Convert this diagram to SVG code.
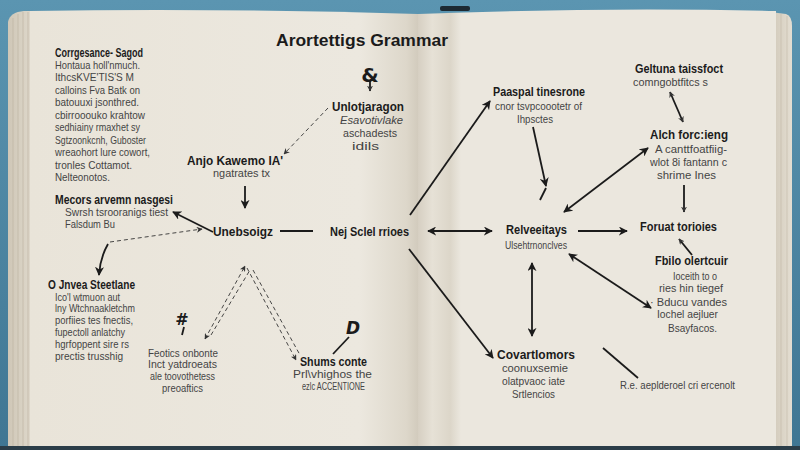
<svg xmlns="http://www.w3.org/2000/svg" width="800" height="450" viewBox="0 0 800 450">
<style>
.h{font-family:"Liberation Sans",Arial,sans-serif;font-weight:bold;font-size:12px;fill:#1b1b1b}
.b{font-family:"Liberation Sans",Arial,sans-serif;font-size:10.5px;fill:#444}
.t{font-family:"Liberation Sans",Arial,sans-serif;font-weight:bold;font-size:17px;fill:#1b1b1b}
.g{font-family:"DejaVu Sans",sans-serif;font-weight:bold;fill:#1b1b1b}
.c{fill:none;stroke:#1b1b1b;stroke-width:1.8}
.d{fill:none;stroke:#333;stroke-width:0.9;stroke-dasharray:4 3}
</style>
<defs>
<linearGradient id="bg" x1="0" y1="0" x2="0" y2="1"><stop offset="0" stop-color="#5b95b1"/><stop offset="1" stop-color="#3f7693"/></linearGradient>
<linearGradient id="lp" x1="0" y1="0" x2="1" y2="0"><stop offset="0" stop-color="#e9e4d9"/><stop offset="0.85" stop-color="#ece8df"/><stop offset="0.97" stop-color="#ddd7ca"/><stop offset="1" stop-color="#d2cbbd"/></linearGradient>
<linearGradient id="rp" x1="0" y1="0" x2="1" y2="0"><stop offset="0" stop-color="#d6cfc2"/><stop offset="0.04" stop-color="#e6e1d6"/><stop offset="0.09" stop-color="#dcd6c9"/><stop offset="0.12" stop-color="#ebe7de"/><stop offset="1" stop-color="#ebe7de"/></linearGradient>
<linearGradient id="st" x1="0" y1="0" x2="1" y2="0"><stop offset="0" stop-color="#cfc7b7"/><stop offset="1" stop-color="#e4ded2"/></linearGradient>
<marker id="ah" viewBox="0 0 10 10" refX="9" refY="5" markerWidth="9" markerHeight="9" markerUnits="userSpaceOnUse" orient="auto-start-reverse"><path d="M0,0 L10,5 L0,10 L3,5 z" fill="#1b1b1b"/></marker>
<marker id="as" viewBox="0 0 10 10" refX="9" refY="5" markerWidth="6" markerHeight="6" markerUnits="userSpaceOnUse" orient="auto-start-reverse"><path d="M0,0 L10,5 L0,10 L3,5 z" fill="#333"/></marker>
</defs>
<rect width="800" height="450" fill="url(#bg)"/>
<g id="book">
<path d="M8,22 Q10,12 24,11 L40,11 L40,447 L8,447 Z" fill="url(#st)"/>
<g stroke="#bfb6a5" stroke-width="0.7"><line x1="13" y1="18" x2="13" y2="446"/><line x1="18" y1="14" x2="18" y2="446"/><line x1="23" y1="12" x2="23" y2="446"/><line x1="28" y1="12" x2="28" y2="446"/><line x1="33" y1="12" x2="33" y2="446"/></g>
<path d="M30,11 Q220,8 418,14 L418,447 L30,447 Z" fill="url(#lp)"/>
<path d="M770,12 L786,14 Q792,16 792,26 L792,447 L770,447 Z" fill="url(#st)"/>
<g stroke="#c6bdad" stroke-width="0.7"><line x1="775" y1="13" x2="775" y2="446"/><line x1="781" y1="14" x2="781" y2="446"/><line x1="787" y1="16" x2="787" y2="446"/></g>
<path d="M418,14 Q600,7 776,11 L776,447 L418,447 Z" fill="url(#rp)"/>
<rect x="440" y="6" width="30" height="5" rx="2" fill="#1d2a33"/>
<rect x="0" y="446" width="800" height="4" fill="#2b3d48"/>
</g>
<g id="connectors">
<line class="d" x1="328" y1="108" x2="284" y2="154" marker-end="url(#as)"/>
<line class="c" x1="370" y1="80" x2="370" y2="91" stroke-width="1.4" marker-end="url(#as)"/>
<line class="c" x1="245" y1="186" x2="245" y2="208" marker-end="url(#ah)"/>
<line class="c" x1="213" y1="232" x2="173" y2="212" marker-end="url(#ah)"/>
<line class="d" x1="110" y1="242" x2="202" y2="229" marker-end="url(#as)"/>
<path class="c" d="M108,244 Q100,258 99,275" marker-end="url(#ah)"/>
<line class="c" x1="280" y1="231" x2="313" y2="231"/>
<line class="d" x1="205" y1="339" x2="245" y2="266" marker-start="url(#as)" marker-end="url(#as)"/>
<line class="d" x1="211" y1="335" x2="250" y2="270"/>
<line class="d" x1="247" y1="268" x2="296" y2="360" marker-end="url(#as)"/>
<line class="d" x1="253" y1="270" x2="300" y2="355"/>
<line class="c" x1="410" y1="215" x2="490" y2="101" marker-end="url(#ah)"/>
<line class="c" x1="428" y1="231" x2="492" y2="231" marker-start="url(#ah)" marker-end="url(#ah)"/>
<line class="c" x1="409" y1="249" x2="493" y2="358" marker-end="url(#ah)"/>
<line class="c" x1="533" y1="127" x2="546" y2="186" marker-end="url(#ah)"/>
<line class="c" x1="540" y1="200" x2="546" y2="188"/>
<line class="c" x1="564" y1="212" x2="648" y2="148" marker-start="url(#ah)" marker-end="url(#ah)"/>
<line class="c" x1="683" y1="122" x2="670" y2="92" stroke-width="1.4" marker-start="url(#as)" marker-end="url(#as)"/>
<line class="c" x1="684" y1="185" x2="684" y2="212" stroke-width="1.4" marker-end="url(#as)"/>
<line class="c" x1="578" y1="231" x2="627" y2="231" marker-end="url(#ah)"/>
<line class="c" x1="692" y1="255" x2="679" y2="239" stroke-width="1.4" marker-end="url(#as)"/>
<line class="c" x1="569" y1="254" x2="651" y2="308" marker-start="url(#ah)" marker-end="url(#ah)"/>
<line class="c" x1="532" y1="263" x2="532" y2="336" marker-start="url(#ah)" marker-end="url(#ah)"/>
<line class="c" x1="603" y1="348" x2="638" y2="378"/>
<line class="c" x1="333" y1="354" x2="349" y2="337" stroke-width="1.6"/>
<line class="c" x1="184" y1="327" x2="182" y2="335" stroke-width="1.4"/>
</g>
<g id="title"><text class="t" x="276" y="46" textLength="172" lengthAdjust="spacingAndGlyphs">Arortettigs Grammar</text></g>
<g id="n-corrgesance">
<text class="h" x="55" y="57" textLength="88" lengthAdjust="spacingAndGlyphs">Corrgesance- Sagod</text>
<text class="b" x="55" y="69" textLength="85" lengthAdjust="spacingAndGlyphs">Hontaua holl'nmuch.</text>
<text class="b" x="55" y="81" textLength="79" lengthAdjust="spacingAndGlyphs">IthcsKVE'TIS'S M</text>
<text class="b" x="55" y="94" textLength="85" lengthAdjust="spacingAndGlyphs">calloins Fva Batk on</text>
<text class="b" x="55" y="106" textLength="84" lengthAdjust="spacingAndGlyphs">batouuxi jsonthred.</text>
<text class="b" x="55" y="119" textLength="90" lengthAdjust="spacingAndGlyphs">cbirrooouko krahtow</text>
<text class="b" x="55" y="131" textLength="85" lengthAdjust="spacingAndGlyphs">sedhiainy rmaxhet sy</text>
<text class="b" x="55" y="144" textLength="91" lengthAdjust="spacingAndGlyphs">Sgtzoonkcnh, Guboster</text>
<text class="b" x="55" y="156" textLength="95" lengthAdjust="spacingAndGlyphs">wreaohort lure cowort,</text>
<text class="b" x="55" y="169" textLength="77" lengthAdjust="spacingAndGlyphs">tronles Cottamot.</text>
<text class="b" x="55" y="181" textLength="55" lengthAdjust="spacingAndGlyphs">Nelteonotos.</text>
</g>
<g id="n-symbol1"><text class="g" x="370" y="82" font-size="20" text-anchor="middle">&amp;</text></g>
<g id="n-unlotjaragon">
<text class="h" x="332" y="111" textLength="72" lengthAdjust="spacingAndGlyphs">Unlotjaragon</text>
<text class="b" x="340" y="124" textLength="63" lengthAdjust="spacingAndGlyphs" font-style="italic" font-size="11.5">Esavotivlake</text>
<text class="b" x="343" y="137" textLength="54" lengthAdjust="spacingAndGlyphs" font-size="11.5">aschadests</text>
<text class="b" x="352" y="150" textLength="27" lengthAdjust="spacingAndGlyphs" font-size="11">idils</text>
</g>
<g id="n-anjo">
<text class="h" x="187" y="165" textLength="96" lengthAdjust="spacingAndGlyphs">Anjo Kawemo IA'</text>
<text class="b" x="213" y="177" textLength="57" lengthAdjust="spacingAndGlyphs">ngatrates tx</text>
</g>
<g id="n-mecors">
<text class="h" x="55" y="204" textLength="118" lengthAdjust="spacingAndGlyphs">Mecors arvemn nasgesi</text>
<text class="b" x="65" y="216" textLength="103" lengthAdjust="spacingAndGlyphs" font-size="9.5">Swrsh tsrooranigs tiest</text>
<text class="b" x="65" y="228" textLength="50" lengthAdjust="spacingAndGlyphs" font-size="9.5">Falsdum Bu</text>
</g>
<g id="n-unebsoigz"><text class="h" x="213" y="236" textLength="60" lengthAdjust="spacingAndGlyphs">Unebsoigz</text></g>
<g id="n-nej"><text class="h" x="330" y="236" textLength="79" lengthAdjust="spacingAndGlyphs">Nej Sclel rrioes</text></g>
<g id="n-jnvea">
<text class="h" x="48" y="289" textLength="87" lengthAdjust="spacingAndGlyphs">O Jnvea Steetlane</text>
<text class="b" x="55" y="301" textLength="65" lengthAdjust="spacingAndGlyphs">Ico'l wtmuon aut</text>
<text class="b" x="55" y="312" textLength="80" lengthAdjust="spacingAndGlyphs">lny Wtchnaakletchm</text>
<text class="b" x="55" y="324" textLength="78" lengthAdjust="spacingAndGlyphs">porfiies tes fnectis,</text>
<text class="b" x="55" y="336" textLength="70" lengthAdjust="spacingAndGlyphs">fupectoll anlatchy</text>
<text class="b" x="55" y="348" textLength="74" lengthAdjust="spacingAndGlyphs">hgrfoppent sire rs</text>
<text class="b" x="55" y="360" textLength="68" lengthAdjust="spacingAndGlyphs">prectis trusshig</text>
</g>
<g id="n-symbol2"><text class="g" x="182" y="325" font-size="16" text-anchor="middle">#</text></g>
<g id="n-feotics">
<text class="b" x="148" y="357" textLength="70" lengthAdjust="spacingAndGlyphs">Feotics onbonte</text>
<text class="b" x="148" y="368" textLength="69" lengthAdjust="spacingAndGlyphs">Inct yatdroeats</text>
<text class="b" x="150" y="380" textLength="65" lengthAdjust="spacingAndGlyphs">ale toovothetess</text>
<text class="b" x="162" y="392" textLength="41" lengthAdjust="spacingAndGlyphs">preoaftics</text>
</g>
<g id="n-symbol3"><text class="g" x="353" y="334" font-size="17" text-anchor="middle" font-style="italic">D</text></g>
<g id="n-shums">
<text class="h" x="300" y="366" textLength="67" lengthAdjust="spacingAndGlyphs" font-size="11">Shums conte</text>
<text class="b" x="293" y="378" textLength="79" lengthAdjust="spacingAndGlyphs">Prl\vhighos the</text>
<text class="b" x="302" y="390" textLength="63" lengthAdjust="spacingAndGlyphs" font-size="9.5">ezlc ACCENTIONE</text>
</g>
<g id="n-paaspal">
<text class="h" x="493" y="96" textLength="92" lengthAdjust="spacingAndGlyphs">Paaspal tinesrone</text>
<text class="b" x="495" y="110" textLength="87" lengthAdjust="spacingAndGlyphs">cnor tsvpcoootetr of</text>
<text class="b" x="517" y="123" textLength="36" lengthAdjust="spacingAndGlyphs">Ihpsctes</text>
</g>
<g id="n-geltuna">
<text class="h" x="635" y="73" textLength="88" lengthAdjust="spacingAndGlyphs">Geltuna taissfoct</text>
<text class="b" x="633" y="86" textLength="75" lengthAdjust="spacingAndGlyphs">comngobtfitcs s</text>
</g>
<g id="n-alch">
<text class="h" x="650" y="139" textLength="78" lengthAdjust="spacingAndGlyphs">Alch forc:ieng</text>
<text class="b" x="655" y="153" textLength="72" lengthAdjust="spacingAndGlyphs">A canttfoatfiig-</text>
<text class="b" x="650" y="166" textLength="77" lengthAdjust="spacingAndGlyphs">wlot 8i fantann c</text>
<text class="b" x="657" y="179" textLength="59" lengthAdjust="spacingAndGlyphs">shrime Ines</text>
</g>
<g id="n-relveeitays">
<text class="h" x="506" y="234" textLength="61" lengthAdjust="spacingAndGlyphs">Relveeitays</text>
<text class="b" x="505" y="249" textLength="62" lengthAdjust="spacingAndGlyphs">Ulsehtrnonclves</text>
</g>
<g id="n-foruat"><text class="h" x="640" y="231" textLength="77" lengthAdjust="spacingAndGlyphs">Foruat torioies</text></g>
<g id="n-fbilo">
<text class="h" x="655" y="265" textLength="73" lengthAdjust="spacingAndGlyphs">Fbilo olertcuir</text>
<text class="b" x="673" y="280" textLength="44" lengthAdjust="spacingAndGlyphs">Ioceith to o</text>
<text class="b" x="659" y="292" textLength="64" lengthAdjust="spacingAndGlyphs">ries hin tiegef</text>
<text class="b" x="650" y="306" textLength="77" lengthAdjust="spacingAndGlyphs">· Bducu vandes</text>
<text class="b" x="657" y="318" textLength="61" lengthAdjust="spacingAndGlyphs">Iochel aejluer</text>
<text class="b" x="668" y="332" textLength="49" lengthAdjust="spacingAndGlyphs">Bsayfacos.</text>
</g>
<g id="n-covartlomors">
<text class="h" x="497" y="359" textLength="78" lengthAdjust="spacingAndGlyphs">Covartlomors</text>
<text class="b" x="502" y="372" textLength="66" lengthAdjust="spacingAndGlyphs">coonuxsemie</text>
<text class="b" x="502" y="385" textLength="63" lengthAdjust="spacingAndGlyphs">olatpvaoc iate</text>
<text class="b" x="512" y="398" textLength="43" lengthAdjust="spacingAndGlyphs">Srtlencios</text>
</g>
<g id="n-re"><text class="b" x="620" y="389" textLength="115" lengthAdjust="spacingAndGlyphs">R.e. aeplderoel cri ercenolt</text></g>
</svg>
